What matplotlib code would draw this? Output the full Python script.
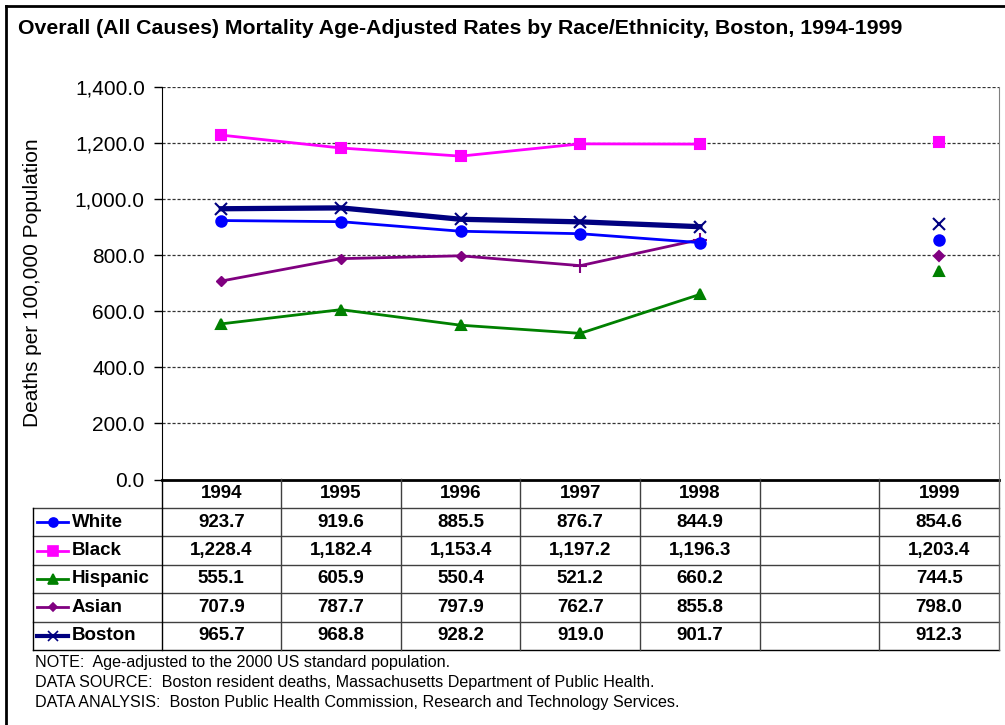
import matplotlib
matplotlib.use("Agg")
import matplotlib.pyplot as plt
from matplotlib.lines import Line2D
from matplotlib.ticker import FuncFormatter

plt.rcParams['font.family'] = ['Liberation Sans', 'DejaVu Sans']

# data: age-adjusted mortality rates per 100,000
years = ['1994', '1995', '1996', '1997', '1998', '', '1999']
groups = ['White', 'Black', 'Hispanic', 'Asian', 'Boston']
white = [923.7, 919.6, 885.5, 876.7, 844.9, 854.6]
black = [1228.4, 1182.4, 1153.4, 1197.2, 1196.3, 1203.4]
hispanic = [555.1, 605.9, 550.4, 521.2, 660.2, 744.5]
asian = [707.9, 787.7, 797.9, 762.7, 855.8, 798.0]
boston = [965.7, 968.8, 928.2, 919.0, 901.7, 912.3]
series = [white, black, hispanic, asian, boston]

colors = ['#0000FF', '#FF00FF', '#008000', '#800080', '#000080']
markers = ['o', 's', '^', 'D', 'x']
msizes = [7.5, 7.5, 7.5, 5.5, 8]
lwidths = [2, 2, 2, 2, 3.8]
zorders = [4, 3, 3, 2, 5]

W, H = 1005, 725
fig = plt.figure(figsize=(W / 100, H / 100), dpi=100)


def fx(px):
    return px / W


def fy(py):
    return 1 - py / H


def box(l, t, r, b):
    return [fx(l), fy(b), fx(r) - fx(l), fy(t) - fy(b)]


# outer frame (top and left edges)
fig.add_artist(Line2D([fx(6), 1], [fy(6), fy(6)], color='black', lw=2))
fig.add_artist(Line2D([fx(6), fx(6)], [fy(6), 0], color='black', lw=2))

fig.text(fx(18), fy(29), 'Overall (All Causes) Mortality Age-Adjusted Rates by Race/Ethnicity, Boston, 1994-1999',
         fontsize=15.3, fontweight='bold', ha='left', va='center')

# plot area
L, R, T, B = 161.5, 999, 87, 479.5
ax = fig.add_axes(box(L, T, R, B))
xs_main = [0, 1, 2, 3, 4]
x_last = 6
for vals, c, m, ms, lw, z in zip(series, colors, markers, msizes, lwidths, zorders):
    if m == 'D':
        # 1997/1998 points show as plus signs
        ax.plot(xs_main, vals[:5], color=c, lw=lw, zorder=z)
        ax.plot(xs_main[:3], vals[:3], ls='none', marker='D', ms=ms, color=c, zorder=z)
        ax.plot(xs_main[3:], vals[3:5], ls='none', marker='+', ms=10, mew=1.5, color=c, zorder=z)
    else:
        ax.plot(xs_main, vals[:5], color=c, lw=lw, marker=m, ms=ms, mew=1.5, zorder=z)
    ax.plot([x_last], [vals[5]], ls='none', marker=m, ms=ms, mew=1.5, color=c, zorder=z)

ax.set_xlim(-0.5, 6.5)
ax.set_ylim(0, 1400)
ax.set_yticks(range(0, 1401, 200))
ax.yaxis.set_major_formatter(FuncFormatter(lambda v, p: format(v, ',.1f')))
ax.tick_params(axis='y', direction='out', length=6, width=1, labelsize=15, pad=6)
ax.set_xticks([])
for yv in range(200, 1401, 200):
    ax.axhline(yv, color='#333333', lw=0.9, ls=(0, (2.5, 1.5)), zorder=1)
ax.spines['top'].set_visible(False)
ax.spines['right'].set_color('#808080')
ax.spines['left'].set_color('black')
ax.spines['bottom'].set_linewidth(2)

fig.text(fx(33), fy(283), 'Deaths per 100,000 Population', rotation=90,
         fontsize=15, ha='center', va='center')

# data table under the plot
TL, TB = 33, 650
col_w = (R - L) / 7
x0 = -0.5 - (L - TL) / col_w
tx = fig.add_axes(box(TL, B, R, TB))
tx.set_xlim(x0, 6.5)
tx.set_ylim(6, 0)
tx.axis('off')

grid_c = '#404040'
for k in range(1, 7):
    tx.plot([x0, 6.5], [k, k], color=grid_c if k < 6 else 'black', lw=1, clip_on=False)
for k in range(8):
    c = 'black' if k == 0 else ('#606060' if k == 7 else grid_c)
    tx.plot([k - 0.5, k - 0.5], [0, 6], color=c, lw=1, clip_on=False)
tx.plot([x0, x0], [1, 6], color='black', lw=1, clip_on=False)

for i, y in enumerate(years):
    if y:
        tx.text(i, 0.5, y, ha='center', va='center', fontsize=13.5, fontweight='bold')


def dx(px):
    return x0 + (px - TL) / col_w


cols = [0, 1, 2, 3, 4, 6]
for r, (name, vals, c, m, ms, lw) in enumerate(zip(groups, series, colors, markers, msizes, lwidths)):
    yr = r + 1.5
    tx.plot([dx(37), dx(68)], [yr, yr], color=c, lw=lw if lw < 3 else 3, clip_on=False)
    tx.plot([dx(52.5)], [yr], marker=m, color=c, ms=ms - 1, mew=1.2, clip_on=False)
    tx.text(dx(72), yr, name, ha='left', va='center', fontsize=13.5, fontweight='bold')
    for ci, v in zip(cols, vals):
        tx.text(ci, yr, format(v, ',.1f'), ha='center', va='center', fontsize=13.5, fontweight='bold')

notes = ['NOTE:  Age-adjusted to the 2000 US standard population.',
         'DATA SOURCE:  Boston resident deaths, Massachusetts Department of Public Health.',
         'DATA ANALYSIS:  Boston Public Health Commission, Research and Technology Services.']
for i, n in enumerate(notes):
    fig.text(fx(35), fy(662 + 20 * i), n, fontsize=11.6, ha='left', va='center')

fig.savefig('out.png', dpi=100)
